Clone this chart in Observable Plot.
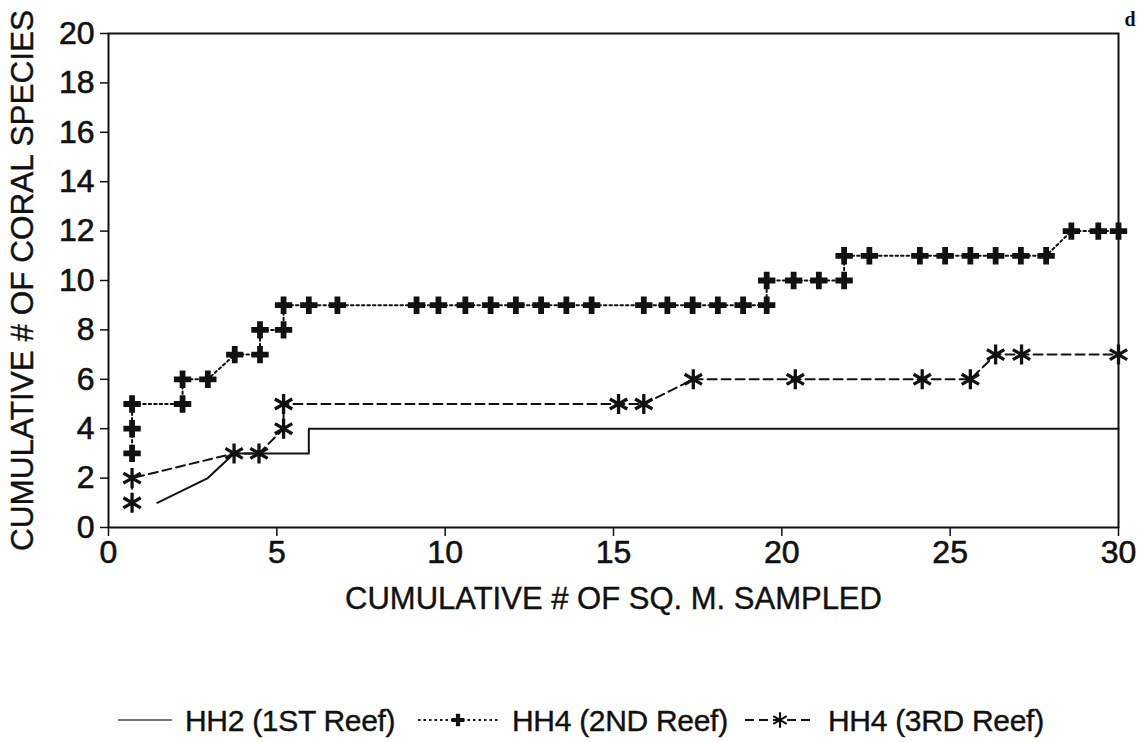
<!DOCTYPE html>
<html><head><meta charset="utf-8">
<script src="https://cdn.jsdelivr.net/npm/d3@7"></script>
<script src="https://cdn.jsdelivr.net/npm/@observablehq/plot@0.6"></script>
<style>
body{margin:0;background:#fff;width:1145px;height:742px;overflow:hidden;font-family:"Liberation Sans",Arial,sans-serif;color:#111;}
#chart svg{display:block;overflow:visible}
#chart g[aria-label="y-axis tick label"],#chart g[aria-label="x-axis tick label"]{font-size:32px;}
#chart g[aria-label="y-axis tick label"] text,#chart g[aria-label="x-axis tick label"] text{font-size:32px;stroke:#111;stroke-width:0.6px;}
#chart g[aria-label="x-axis label"],#chart g[aria-label="y-axis label"]{font-size:31px;}
#chart g[aria-label="x-axis label"] text{font-size:31px;stroke:#111;stroke-width:0.4px;}
#chart g[aria-label="y-axis label"] text{font-size:31.5px;stroke:#111;stroke-width:0.4px;}
#legend svg{display:block}
</style></head><body>
<div id="chart"></div>
<div id="legend"></div>
<script>
const xTicks = [0, 5, 10, 15, 20, 25, 30];
const yTicks = [0, 2, 4, 6, 8, 10, 12, 14, 16, 18, 20];
const seriesNames = ["HH2 (1ST Reef)", "HH4 (2ND Reef)", "HH4 (3RD Reef)"];

// HH2 (1st reef) – solid line, no markers
const reef1X = [1.45, 2.95, 3.73, 5.95, 5.95, 30];
const reef1Y = [1, 2, 3, 3, 4, 4];

// HH4 (2nd reef) – dotted line with plus markers
const reef2X = [0.7, 0.7, 0.7, 2.2, 2.2, 2.95, 3.75, 4.5, 4.5, 5.2, 5.2, 5.95, 6.8,
  9.15, 9.8, 10.6, 11.35, 12.1, 12.85, 13.6, 14.35, 15.9, 16.6, 17.35, 18.1, 18.85,
  19.55, 19.55, 20.35, 21.1, 21.85, 21.85, 22.6, 24.1, 24.85, 25.6, 26.35, 27.1, 27.85,
  28.6, 29.4, 30];
const reef2Y = [3, 4, 5, 5, 6, 6, 7, 7, 8, 8, 9, 9, 9,
  9, 9, 9, 9, 9, 9, 9, 9, 9, 9, 9, 9, 9,
  9, 10, 10, 10, 10, 11, 11, 11, 11, 11, 11, 11, 11,
  12, 12, 12];

// HH4 (3rd reef) – dashed line with asterisk markers
const reef3X = [0.7, 0.7, 3.73, 4.47, 5.2, 5.2, 15.15, 15.9, 17.37, 20.4, 24.17, 25.6, 26.35, 27.12, 30];
const reef3Y = [1, 2, 3, 3, 4, 5, 5, 5, 6, 6, 6, 6, 7, 7, 7];

const toRows = (xs, ys) => xs.map((x, i) => ({x, y: ys[i]}));
const r1 = toRows(reef1X, reef1Y);
const r2 = toRows(reef2X, reef2Y);
const r3 = toRows(reef3X, reef3Y);

const ink = "#111";
const plot = Plot.plot({
  width: 1145,
  height: 640,
  marginLeft: 108,
  marginRight: 27,
  marginTop: 33,
  marginBottom: 113,
  style: {background: "#fff", color: ink, fontFamily: "'Liberation Sans', Arial, sans-serif"},
  x: {domain: [0, 30]},
  y: {domain: [0, 20]},
  marks: [
    Plot.axisX({ticks: xTicks, tickSize: 9, tickPadding: 4, strokeWidth: 1.5, label: "CUMULATIVE # OF SQ. M. SAMPLED", labelAnchor: "center", labelArrow: "none", labelOffset: 81}),
    Plot.axisY({ticks: yTicks, tickSize: 8, tickPadding: 6, strokeWidth: 1.5, label: "CUMULATIVE # OF CORAL SPECIES", labelAnchor: "center", labelArrow: "none", labelOffset: 98}),
    Plot.frame({stroke: ink, strokeWidth: 2}),
    Plot.line(r1, {x: "x", y: "y", stroke: ink, strokeWidth: 2}),
    Plot.line(r2, {x: "x", y: "y", stroke: ink, strokeWidth: 2, strokeDasharray: "2.5,3"}),
    Plot.line(r3, {x: "x", y: "y", stroke: ink, strokeWidth: 2, strokeDasharray: "9,5"}),
    Plot.dot(r2, {x: "x", y: "y", symbol: "cross", r: 7.3, fill: ink, stroke: "none"}),
    Plot.dot(r3, {x: "x", y: "y", symbol: "asterisk", r: 9.5, stroke: ink, strokeWidth: 3.3}),
    Plot.text(["d"], {frameAnchor: "top-right", dx: 6, dy: -22, textAnchor: "start", fontFamily: "'Liberation Serif', serif", fontWeight: "bold", fontSize: 20, fill: ink})
  ]
});
document.getElementById("chart").appendChild(plot);

// Legend (below the chart SVG)
const lg = d3.create("svg").attr("width", 1145).attr("height", 102);
const cy = 80;
const items = [
  {x0: 118, x1: 172, tx: 185, dash: null, sym: null},
  {x0: 418, x1: 498, tx: 512, dash: "2.5,3", sym: d3.symbolCross},
  {x0: 745, x1: 815, tx: 828, dash: "9,5", sym: d3.symbolAsterisk}
];
items.forEach((it, i) => {
  lg.append("line").attr("x1", it.x0).attr("x2", it.x1).attr("y1", cy).attr("y2", cy)
    .attr("stroke", i === 0 ? "#777" : ink).attr("stroke-width", 2)
    .attr("stroke-dasharray", it.dash);
  if (it.sym) {
    const p = lg.append("path").attr("transform", `translate(${(it.x0 + it.x1) / 2},${cy})`);
    if (it.sym === d3.symbolCross) p.attr("d", d3.symbol(it.sym, 90)()).attr("fill", ink);
    else p.attr("d", d3.symbol(it.sym, 170)()).attr("fill", "none").attr("stroke", ink).attr("stroke-width", 2.2);
  }
  lg.append("text").attr("x", it.tx).attr("y", cy).attr("dy", "0.36em")
    .attr("font-size", 30).attr("fill", ink).attr("stroke", ink).attr("stroke-width", 0.4)
    .attr("font-family", "'Liberation Sans', Arial, sans-serif")
    .attr("letter-spacing", "-0.3px")
    .text(seriesNames[i]);
});
document.getElementById("legend").appendChild(lg.node());
</script>
</body></html>
